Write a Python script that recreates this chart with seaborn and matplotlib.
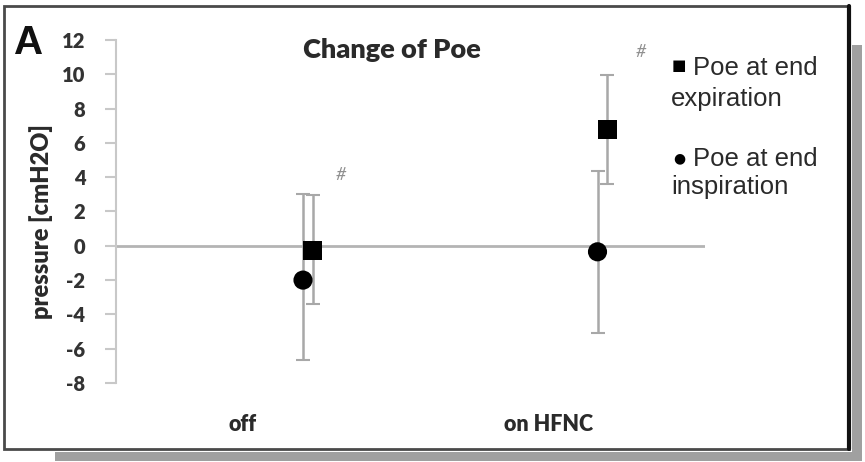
import numpy as np
import pandas as pd
import matplotlib
matplotlib.use("Agg")
import matplotlib.pyplot as plt
from matplotlib.patches import Rectangle
import seaborn as sns

# ---- data ----
categories = ["off", "on HFNC"]
exp_mean = [-0.25, 6.8]
exp_low = [-3.4, 3.6]
exp_high = [2.95, 9.95]
insp_mean = [-2.0, -0.35]
insp_low = [-6.65, -5.1]
insp_high = [3.0, 4.35]
y_ticks = list(range(-8, 13, 2))
series_names = ["Poe at end\nexpiration", "Poe at end\ninspiration"]

sns.set_theme(style="white")
plt.rcParams["font.family"] = ["Lato", "DejaVu Sans"]

W, H = 865, 462
fig = plt.figure(figsize=(W / 100, H / 100), dpi=100)
fig.patch.set_facecolor("white")

# frame with shadow
fig.add_artist(Rectangle((55 / W, 1 - 461 / H), (862 - 55) / W, 9 / H,
                         transform=fig.transFigure, facecolor="#a0a0a0", edgecolor="none", zorder=0))
fig.add_artist(Rectangle((852 / W, 1 - 461 / H), 10 / W, (461 - 45) / H,
                         transform=fig.transFigure, facecolor="#a0a0a0", edgecolor="none", zorder=0))
fig.add_artist(Rectangle((4 / W, 1 - 449 / H), (849 - 4) / W, (449 - 6) / H,
                         transform=fig.transFigure, facecolor="white", edgecolor="#4a4a4a", lw=2, zorder=0.5))
fig.add_artist(plt.Line2D([849 / W, 849 / W], [1 - 449 / H, 1 - 6 / H], transform=fig.transFigure,
                          color="#111111", lw=3, zorder=0.6))

ax = fig.add_axes([116 / W, 1 - 383 / H, 589 / W, (383 - 40) / H])
ax.set_facecolor("none")
ax.set_zorder(1)

pos = np.arange(len(categories)) + 0.5
off_insp, off_exp = 0.135, 0.168

df = pd.DataFrame({
    "x": np.concatenate([pos + off_exp, pos + off_insp]),
    "value": exp_mean + insp_mean,
    "low": exp_low + insp_low,
    "high": exp_high + insp_high,
    "series": [series_names[0]] * 2 + [series_names[1]] * 2,
})

ax.axhline(0, color="#b4b4b4", lw=2, zorder=1)
for name in series_names:
    d = df[df["series"] == name]
    ax.errorbar(d["x"], d["value"], yerr=[d["value"] - d["low"], d["high"] - d["value"]],
                fmt="none", ecolor="#a8a8a8", elinewidth=1.8, capsize=5, capthick=1.5, zorder=2)

sns.scatterplot(data=df, x="x", y="value", style="series",
                markers={series_names[0]: "s", series_names[1]: "o"},
                color="black", s=190, edgecolor="black", linewidth=0, legend=False, ax=ax, zorder=3)

ax.set_xlim(0, 2)
ax.set_ylim(-8, 12)
ax.set_yticks(y_ticks)
ax.set_yticklabels([str(t) for t in y_ticks], fontweight="heavy", color="#333333", fontsize=14.5)
ax.tick_params(axis="y", direction="out", length=8, width=1.5, color="#c8c8c8", pad=14, left=True)
ax.set_xticks(pos + np.array([-0.07, -0.03]))
ax.set_xticklabels(categories, fontweight="heavy", color="#2a2a2a", fontsize=15.5)
ax.tick_params(axis="x", length=0, pad=22)
for s in ["top", "right", "bottom"]:
    ax.spines[s].set_visible(False)
ax.spines["left"].set_color("#c8c8c8")
ax.spines["left"].set_linewidth(1.5)
ax.set_xlabel("")
ax.set_ylabel("pressure [cmH2O]", fontweight="heavy", fontsize=17, color="#2a2a2a")
ax.yaxis.set_label_coords(-0.107, 0.47)

# significance marks
ax.text(0.763, 4.1, "#", color="#909090", fontsize=13, style="italic", ha="center", va="center")
ax.text(1.783, 11.3, "#", color="#909090", fontsize=13, style="italic", ha="center", va="center")

# title and panel letter
fig.text(392 / W, 1 - 50 / H, "Change of Poe", ha="center", va="center",
         fontsize=19.5, fontweight="heavy", color="#2a2a2a")
fig.text(14 / W, 1 - 43 / H, "A", ha="left", va="center", fontsize=29, fontweight="bold",
         color="#111111", family=["Liberation Sans", "DejaVu Sans"])

# legend
leg_font = ["Liberation Sans", "DejaVu Sans"]
fig.text(679 / W, 1 - 66 / H, "\u25a0", ha="center", va="center", fontsize=11,
         color="black", family=["DejaVu Sans"])
fig.text(679 / W, 1 - 158 / H, "\u25cf", ha="center", va="center", fontsize=10,
         color="black", family=["DejaVu Sans"])
fig.text(693 / W, 1 - 56 / H, "Poe at end", ha="left", va="top", fontsize=18.5,
         color="#2a2a2a", family=leg_font)
fig.text(671 / W, 1 - 87 / H, "expiration", ha="left", va="top", fontsize=18.5,
         color="#2a2a2a", family=leg_font)
fig.text(693 / W, 1 - 147 / H, "Poe at end", ha="left", va="top", fontsize=18.5,
         color="#2a2a2a", family=leg_font)
fig.text(671 / W, 1 - 175 / H, "inspiration", ha="left", va="top", fontsize=18.5,
         color="#2a2a2a", family=leg_font)

fig.savefig("out.png", dpi=100)
